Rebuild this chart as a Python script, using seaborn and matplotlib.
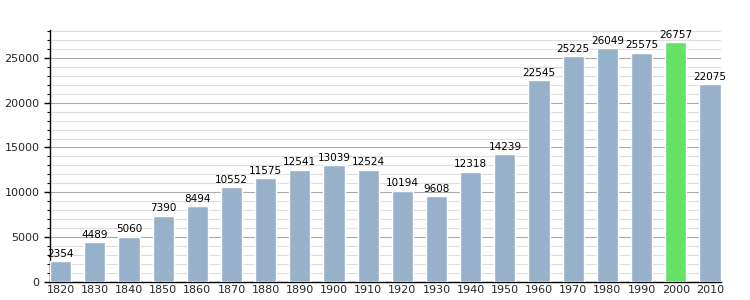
import matplotlib
matplotlib.use("Agg")
import matplotlib.pyplot as plt
import seaborn as sns
import pandas as pd
from matplotlib.ticker import MultipleLocator

years = ["1820","1830","1840","1850","1860","1870","1880","1890","1900","1910",
         "1920","1930","1940","1950","1960","1970","1980","1990","2000","2010"]
population = [2354,4489,5060,7390,8494,10552,11575,12541,13039,12524,
              10194,9608,12318,14239,22545,25225,26049,25575,26757,22075]
highlight_year = "2000"

df = pd.DataFrame({"year": years, "pop": population})
colors = ["#66e066" if y == highlight_year else "#97b1cb" for y in years]

sns.set_style("white")
plt.rcParams['font.family'] = ['DejaVu Sans']
fig = plt.figure(figsize=(7.5, 3), dpi=100)
ax = fig.add_axes([0.0667, 0.06, 0.894, 0.84])

sns.barplot(data=df, x="year", y="pop", hue="year", palette=colors, legend=False,
            width=0.62, ax=ax, saturation=1, zorder=3)

ax.set_ylim(0, 28100)
ax.set_xlim(-0.31, len(years) - 0.69)
ax.yaxis.set_major_locator(MultipleLocator(5000))
ax.yaxis.set_minor_locator(MultipleLocator(1000))
ax.grid(which="major", axis="y", color="#aaaaaa", linewidth=0.8, zorder=0)
ax.grid(which="minor", axis="y", color="#dedede", linewidth=0.8, zorder=0)
ax.set_axisbelow(True)

for s in ["top", "right"]:
    ax.spines[s].set_visible(False)
for s in ["left", "bottom"]:
    ax.spines[s].set_color("black")
    ax.spines[s].set_linewidth(1)

ax.tick_params(axis="y", which="major", length=4, width=1, color="black", labelsize=8, left=True)
ax.tick_params(axis="y", which="minor", length=2, width=0.8, color="black", left=True)
ax.tick_params(axis="x", length=0, labelsize=8, pad=2)
ax.set_xlabel("")
ax.set_ylabel("")

for i, v in enumerate(population):
    ax.text(i, v + 250, str(v), ha="center", va="bottom", fontsize=7.5, color="black")

fig.savefig("out.png", dpi=100)
